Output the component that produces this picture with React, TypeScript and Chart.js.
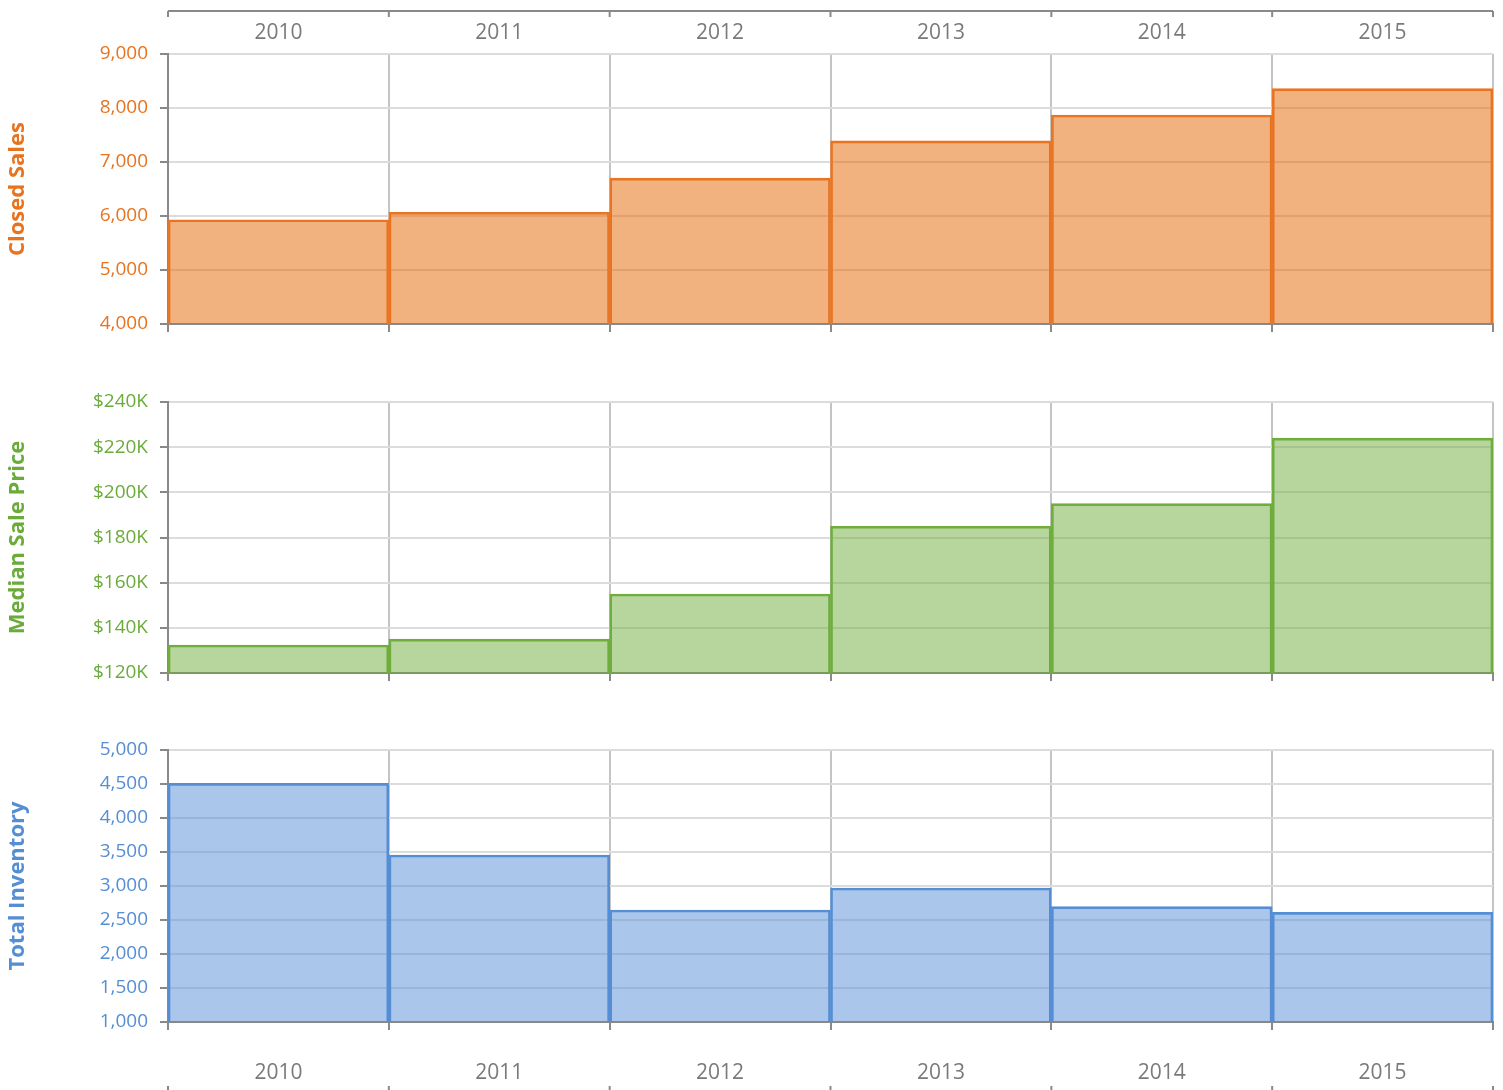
import React, { useEffect, useRef } from "react";
import { Chart, registerables } from "chart.js";

Chart.register(...registerables);

// ---- data ----
const years = ["2010", "2011", "2012", "2013", "2014", "2015"];
const closedSales = [5930, 6070, 6700, 7390, 7870, 8360];
const medianSalePrice = [132400, 135000, 155000, 185000, 195000, 224000];
const totalInventory = [4510, 3456, 2647, 2971, 2696, 2613];

// axis ranges: [min, max, step]
const closedSalesRange = [4000, 9000, 1000];
const medianPriceRange = [120000, 240000, 20000];
const inventoryRange = [1000, 5000, 500];

const FONT = "'Open Sans', 'DejaVu Sans', sans-serif";
const AXIS_DARK = "#898989";
const GRID_H = "#DCDCDC";
const GRID_V = "#C4C4C4";
const YEAR_GRAY = "#7A7A7A";

const W = 1503;
// minimum bottom reserve Chart.js keeps for the last y tick label (half line + padding)
const MIN_BOTTOM = 24;

type PanelSpec = {
  top: number;
  height: number;
  areaTop: number;
  areaBottom: number;
  title: string;
  color: string;
  border: string;
  fill: string;
  values: number[];
  range: number[];
  fmt: (v: number) => string;
  topLabels: boolean;
  bottomLabels: boolean;
};

const panels: PanelSpec[] = [
  {
    top: 0, height: 324 + MIN_BOTTOM, areaTop: 54, areaBottom: 324,
    title: "Closed Sales", color: "#E8731F", border: "#EA7625", fill: "rgba(228,108,10,0.52)",
    values: closedSales, range: closedSalesRange, fmt: (v) => v.toLocaleString("en-US"),
    topLabels: true, bottomLabels: false,
  },
  {
    top: 345, height: 328 + MIN_BOTTOM, areaTop: 57, areaBottom: 328,
    title: "Median Sale Price", color: "#6AAB3A", border: "#6FAD3D", fill: "rgba(112,173,60,0.5)",
    values: medianSalePrice, range: medianPriceRange, fmt: (v) => "$" + Math.round(v / 1000) + "K",
    topLabels: false, bottomLabels: false,
  },
  {
    top: 695, height: 395, areaTop: 55, areaBottom: 327,
    title: "Total Inventory", color: "#558ED5", border: "#558ED5", fill: "rgba(85,142,213,0.5)",
    values: totalInventory, range: inventoryRange, fmt: (v) => v.toLocaleString("en-US"),
    topLabels: false, bottomLabels: true,
  },
];

function boundaries(scale: any, n: number): number[] {
  const xs: number[] = [];
  for (let i = 0; i <= n; i++) xs.push(scale.getPixelForValue(i - 0.5));
  return xs;
}

function makeConfig(p: PanelSpec): any {
  const decorPlugin = {
    id: "decor" + p.title.replace(/\s/g, ""),
    afterDraw(chart: any) {
      const ctx = chart.ctx;
      const xs = boundaries(chart.scales.x, years.length);
      ctx.save();
      ctx.strokeStyle = AXIS_DARK;
      ctx.lineWidth = 2;
      if (p.topLabels) {
        ctx.beginPath();
        ctx.moveTo(xs[0], 11);
        ctx.lineTo(xs[xs.length - 1], 11);
        xs.forEach((x) => { ctx.moveTo(x, 11); ctx.lineTo(x, 17); });
        ctx.stroke();
      }
      if (p.bottomLabels) {
        ctx.beginPath();
        xs.forEach((x) => { ctx.moveTo(x, p.height - 4); ctx.lineTo(x, p.height); });
        ctx.stroke();
      }
      ctx.restore();
    },
  };

  const scales: any = {
    x: {
      type: "category", position: "bottom", offset: true,
      grid: { offset: true, color: GRID_V, tickColor: AXIS_DARK, tickLength: 8, lineWidth: 2 },
      border: { color: AXIS_DARK, width: 2 },
      ticks: p.bottomLabels
        ? { display: true, color: YEAR_GRAY, font: { size: 21, family: FONT }, padding: 30, maxRotation: 0 }
        : { display: false },
      afterFit: (s: any) => { s.height = p.height - p.areaBottom; },
    },
    y: {
      type: "linear", position: "left", min: p.range[0], max: p.range[1],
      ticks: {
        stepSize: p.range[2], color: p.color,
        font: { size: 19, family: FONT, lineHeight: "24px" }, padding: 12,
        callback: (v: any) => p.fmt(Number(v)),
      },
      grid: { color: GRID_H, tickColor: AXIS_DARK, tickLength: 8, lineWidth: 2 },
      border: { color: AXIS_DARK, width: 2 },
      title: {
        display: true, text: p.title, color: p.color,
        font: { size: 22, weight: "bold", family: FONT }, padding: { top: 5, bottom: 0 },
      },
      afterFit: (s: any) => { s.width = 168; },
    },
  };

  if (p.topLabels) {
    scales.x2 = {
      type: "category", position: "top", offset: true,
      grid: { display: false, drawTicks: false, drawOnChartArea: false },
      border: { display: false },
      ticks: { color: YEAR_GRAY, font: { size: 21, family: FONT }, padding: 8, maxRotation: 0 },
      afterFit: (s: any) => { s.height = p.areaTop; },
    };
  }

  return {
    type: "bar",
    data: {
      labels: years,
      datasets: [{
        label: p.title, data: p.values, backgroundColor: p.fill, borderColor: p.border,
        borderWidth: 2, borderSkipped: "bottom", barPercentage: 1, categoryPercentage: 1,
        xAxisID: "x", yAxisID: "y",
      }],
    },
    options: {
      responsive: false, animation: false, devicePixelRatio: 1,
      layout: { padding: { left: 0, right: 10, top: p.topLabels ? 0 : p.areaTop, bottom: 0 } },
      plugins: { legend: { display: false }, tooltip: { enabled: false }, title: { display: false } },
      scales,
    },
    plugins: [decorPlugin],
  };
}

function Panel({ spec }: { spec: PanelSpec }) {
  const ref = useRef<HTMLCanvasElement | null>(null);
  useEffect(() => {
    if (!ref.current) return;
    const chart = new Chart(ref.current, makeConfig(spec));
    return () => chart.destroy();
  }, [spec]);
  return (
    <canvas ref={ref} width={W} height={spec.height}
      style={{ position: "absolute", left: 0, top: spec.top, width: W, height: spec.height }} />
  );
}

export default function App() {
  Chart.defaults.font.family = FONT;
  return (
    <div style={{ position: "absolute", left: 0, top: 0, width: W, height: 1090, background: "#ffffff", overflow: "hidden" }}>
      {panels.map((p) => (
        <Panel key={p.title} spec={p} />
      ))}
    </div>
  );
}
